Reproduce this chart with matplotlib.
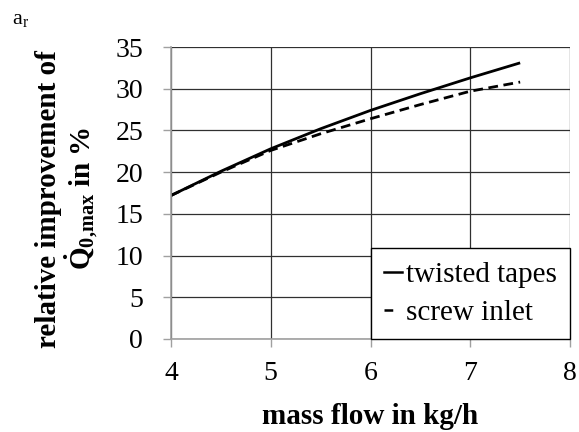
import matplotlib

matplotlib.use("Agg")
import matplotlib.pyplot as plt
from matplotlib.lines import Line2D

mass_flow = [4.0, 4.5, 5.0, 5.5, 6.0, 6.5, 7.0, 7.5]
twisted_tapes = [17.2, 20.1, 22.8, 25.2, 27.4, 29.4, 31.3, 33.1]
screw_inlet = [17.2, 20.0, 22.6, 24.6, 26.4, 28.1, 29.7, 30.8]

x_ticks = [4, 5, 6, 7, 8]
y_ticks = [0, 5, 10, 15, 20, 25, 30, 35]

plt.rcParams["font.family"] = ["Liberation Serif", "DejaVu Serif"]
plt.rcParams["mathtext.fontset"] = "custom"
plt.rcParams["mathtext.rm"] = "Liberation Serif"
plt.rcParams["mathtext.bf"] = "Liberation Serif:bold"
plt.rcParams["mathtext.it"] = "Liberation Serif:italic"

fig = plt.figure(figsize=(5.79, 4.32), dpi=100)
ax = fig.add_axes([0.2953, 0.2153, 0.6892, 0.6759])

ax.plot(mass_flow, twisted_tapes, color="black", linewidth=2.0, solid_capstyle="butt")
ax.plot(mass_flow, screw_inlet, color="black", linewidth=2.0, linestyle=(0, (3.5, 2.0)))

ax.set_xlim(4, 8)
ax.set_ylim(0, 35)
ax.set_xticks(x_ticks)
ax.set_yticks(y_ticks)
ax.tick_params(axis="both", labelsize=20, length=6, color="#a0a0a0", width=1.0)
ax.tick_params(axis="x", pad=10)
ax.tick_params(axis="y", pad=14)

ax.grid(True, color="#303030", linewidth=0.9)
ax.set_axisbelow(True)
for side in ("top", "right"):
    ax.spines[side].set_visible(False)
for side in ("left", "bottom"):
    ax.spines[side].set_color("#a0a0a0")
    ax.spines[side].set_linewidth(1.2)

ax.set_xlabel("mass flow in kg/h", fontsize=21, fontweight="bold", labelpad=12)
ax.set_ylabel("relative improvement of\n" + r"$\mathbf{\dot{Q}_{0{,}max}\ in\ \%}$",
              fontsize=21, fontweight="bold", linespacing=1.05)
ax.yaxis.set_label_coords(-0.175, 0.48)

handles = [
    Line2D([], [], color="black", linewidth=1.8),
    Line2D([], [], color="black", linewidth=1.8, linestyle=(0, (3.5, 10))),
]
leg = ax.legend(handles, ["twisted tapes", "screw inlet"], loc="lower right",
                bbox_to_anchor=(1.0, 0.0), fontsize=21, frameon=True, fancybox=False,
                handlelength=0.6, handletextpad=0.15, borderpad=0.45,
                labelspacing=0.4, borderaxespad=0.0)
leg.get_frame().set_edgecolor("black")
leg.get_frame().set_linewidth(1.0)
leg.get_frame().set_alpha(1.0)

fig.text(0.02, 0.945, r"a$_\mathrm{r}$", fontsize=16)

fig.savefig("out.png", dpi=100)
